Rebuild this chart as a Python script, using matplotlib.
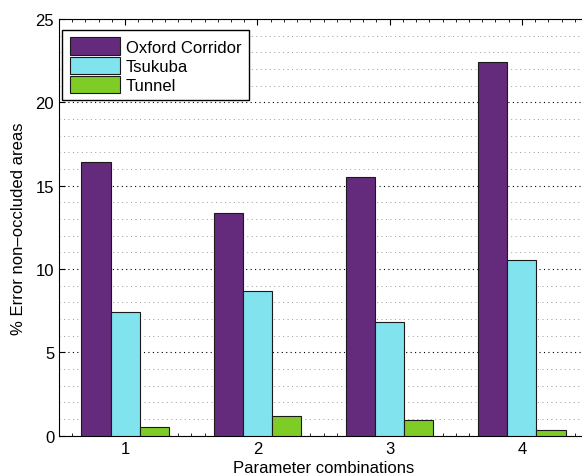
import numpy as np
import matplotlib
matplotlib.use("Agg")
import matplotlib.pyplot as plt
from matplotlib.ticker import MultipleLocator

combos = [1, 2, 3, 4]
series = ["Oxford Corridor", "Tsukuba", "Tunnel"]
oxford = [16.4, 13.35, 15.5, 22.44]
tsukuba = [7.44, 8.66, 6.84, 10.56]
tunnel = [0.5, 1.2, 0.92, 0.32]
colors = ["#642a7c", "#80e3ee", "#7fcc27"]

plt.rcParams['font.family'] = ['Liberation Sans', 'DejaVu Sans']

fig = plt.figure(figsize=(5.82, 4.77), dpi=100)
ax = fig.add_axes([0.1014, 0.0845, 0.909, 0.8736])

x = np.array(combos, dtype=float)
w = 0.22
for i, (vals, name) in enumerate(zip([oxford, tsukuba, tunnel], series)):
    ax.bar(x + (i - 1) * w, vals, width=w, color=colors[i],
           edgecolor="#1a1a1a", linewidth=0.8, label=name, zorder=3)

ax.set_xlim(0.5, 4.5)
ax.set_ylim(0, 25)
ax.set_xticks(combos)
ax.set_yticks([0, 5, 10, 15, 20, 25])
ax.xaxis.set_minor_locator(MultipleLocator(0.1))
ax.yaxis.set_minor_locator(MultipleLocator(1))
ax.tick_params(which="both", direction="in", top=True, right=True, labelsize=12)
ax.tick_params(which="major", length=4)
ax.tick_params(which="minor", length=2)
ax.tick_params(axis="y", which="minor", length=0)

ax.grid(axis="y", which="major", color="black", linestyle=(0, (1, 3)), linewidth=0.8, zorder=0)
ax.grid(axis="y", which="minor", color="#999999", linestyle=(0, (1, 3.6)), linewidth=0.7, zorder=0)

ax.set_xlabel("Parameter combinations", fontsize=12, labelpad=3)
ax.set_ylabel("% Error non\u2013occluded areas", fontsize=12, labelpad=7)

leg = ax.legend(loc="upper left", bbox_to_anchor=(0.0057, 0.9736), borderaxespad=0,
                fontsize=12, fancybox=False, framealpha=1,
                edgecolor="black", handlelength=3.0, handleheight=1.2,
                labelspacing=0.12, handletextpad=0.36, borderpad=0.45)
leg.get_frame().set_linewidth(1.0)
leg.set_zorder(5)

fig.savefig("out.png", dpi=100)
